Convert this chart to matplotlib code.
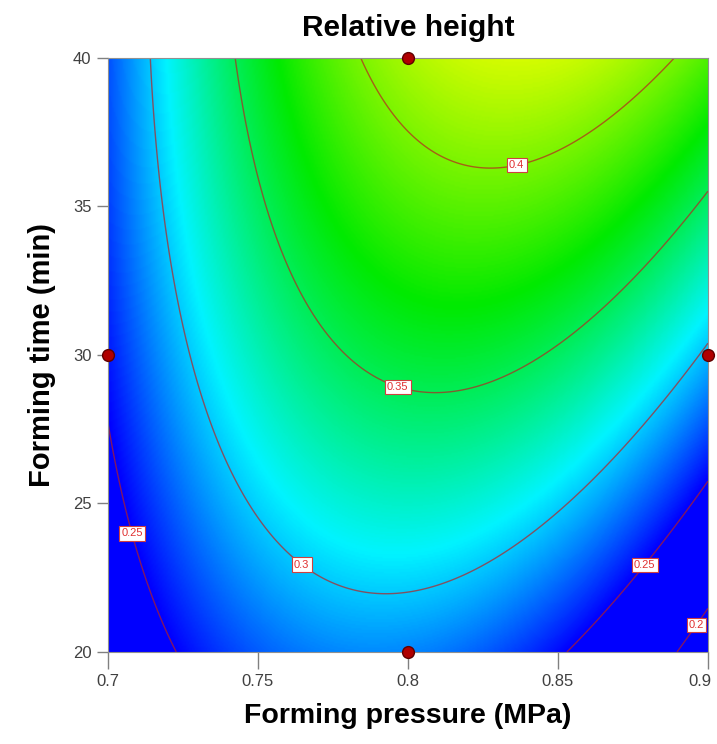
import matplotlib as mpl
mpl.use('Agg')
import matplotlib.pyplot as plt
from matplotlib.colors import LinearSegmentedColormap
from matplotlib.transforms import ScaledTranslation
import numpy as np

# fitted response surface (coded A=(P-0.8)/0.1, B=(T-30)/10)
model_terms = ['1', 'A', 'B', 'AB', 'A^2', 'B^2']
model_coefs = [0.3576, 0.0199, 0.0640, 0.0397, -0.0816, -0.0102]

pressure_range = [0.7, 0.9]
time_range = [20, 40]
contour_levels = [0.2, 0.25, 0.3, 0.35, 0.4]
# design points shown as red dots
design_p = [0.8, 0.7, 0.8, 0.9]
design_t = [40, 30, 20, 30]
# where the contour labels sit
label_pos = [(0.7083, 24.0), (0.765, 23.0), (0.797, 29.06), (0.836, 36.5),
             (0.878, 23.0), (0.895, 21.0)]

xticks = [0.7, 0.75, 0.8, 0.85, 0.9]
xticklabels = ['0.7', '0.75', '0.8', '0.85', '0.9']
yticks = [20, 25, 30, 35, 40]

plt.rc('font', family=['Liberation Sans', 'DejaVu Sans'])

fig = plt.figure(figsize=(7.17, 7.44), dpi=100)
ax = fig.add_axes([0.1506, 0.1237, 0.8368, 0.7984])

P, T = np.meshgrid(np.linspace(pressure_range[0], pressure_range[1], 400),
                   np.linspace(time_range[0], time_range[1], 400))
A = (P - 0.8) / 0.1
B = (T - 30) / 10
b0, bA, bB, bAB, bAA, bBB = model_coefs
Z = b0 + bA * A + bB * B + bAB * A * B + bAA * A**2 + bBB * B**2

cmap = LinearSegmentedColormap.from_list(
    'de', [(0.0, '#0000ff'), (0.25, '#00f4ff'), (0.5, '#00ea00'),
           (0.75, '#f4ff00'), (1.0, '#ff0000')])
ax.imshow(Z, extent=(pressure_range[0], pressure_range[1], time_range[0], time_range[1]),
          origin='lower', aspect='auto', cmap=cmap, vmin=0.25, vmax=0.49,
          interpolation='bilinear')
cs = ax.contour(P, T, Z, levels=contour_levels, colors='#b82020',
                linewidths=1.0, alpha=0.7)
ax.clabel(cs, inline=False, manual=label_pos, fontsize=8,
          fmt=lambda v: ('%.2f' % v).rstrip('0'))
for t in cs.labelTexts:
    t.set_rotation(0)
    t.set_color('#e03030')
    t.set_alpha(1)
    t.set_bbox(dict(boxstyle='square,pad=0.2', facecolor='white',
                    edgecolor='#d04040', linewidth=0.8))
    t.set_zorder(4)

ax.plot(design_p, design_t, 'o', color='#b00000', markeredgecolor='#600000',
        markersize=8.5, clip_on=False, zorder=5)

ax.set_xlim(pressure_range)
ax.set_ylim(time_range)
ax.set_xticks(xticks)
ax.set_xticklabels(xticklabels)
ax.set_yticks(yticks)
ax.tick_params(direction='out', width=1, color='#808080',
               labelcolor='#404040', labelsize=12)
ax.tick_params(axis='x', length=12, pad=4)
ax.tick_params(axis='y', length=8, pad=4)
for s in ax.spines.values():
    s.set_color('#909090')

# keep the last x tick label inside the figure
last = ax.get_xticklabels()[-1]
last.set_transform(last.get_transform() + ScaledTranslation(-6 / 72, 0, fig.dpi_scale_trans))

ax.set_title('Relative height', fontsize=21.5, fontweight='bold', pad=16)
ax.set_xlabel('Forming pressure (MPa)', fontsize=20.5, fontweight='bold', labelpad=10)
ax.set_ylabel('Forming time (min)', fontsize=21, fontweight='bold', labelpad=12)

plt.savefig('out.png', dpi=100)
